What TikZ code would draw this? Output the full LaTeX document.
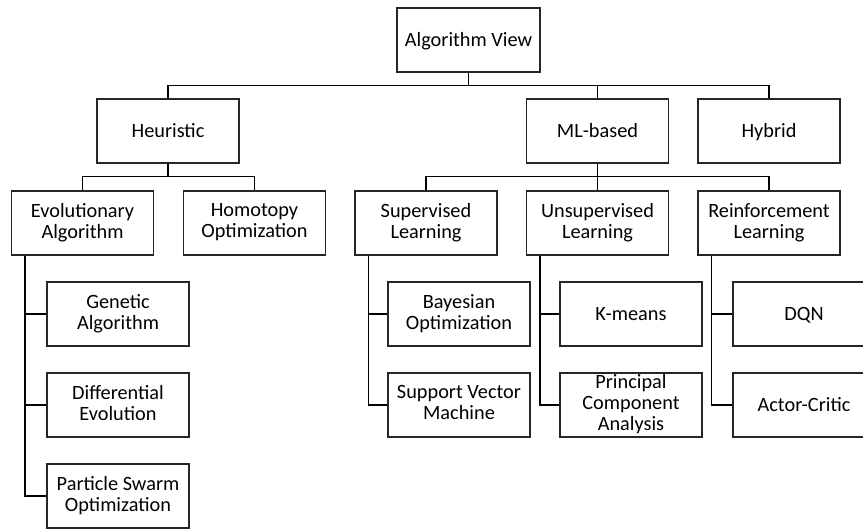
\documentclass[tikz,border=0pt]{standalone}
\usepackage{fontspec}
\setmainfont{Carlito}
% line strut that keeps single- and multi-line labels vertically centred
\newcommand{\labelstrut}{\rule[-4.3pt]{0pt}{21pt}}
\begin{document}
\begin{tikzpicture}[x=1pt,y=-1pt,
  box/.style={draw=black!85, line width=1.5pt, minimum width=142pt, minimum height=64pt,
    inner sep=2pt, align=center, font=\fontsize{20.3}{21}\selectfont,
    execute at begin node=\labelstrut, execute at end node=\labelstrut},
  wire/.style={draw=black, line width=1.5pt}]
\useasboundingbox (0,0) rectangle (863,528);

% level 0
\node[box, minimum width=143pt] (root) at (468.5,40) {Algorithm View};

% level 1
\node[box] (heur) at (168,131) {Heuristic};
\node[box] (ml)   at (597.5,131) {ML-based};
\node[box] (hyb)  at (769,131) {Hybrid};

% level 2
\node[box] (evo) at (82.5,223) {Evolutionary\\Algorithm};
\node[box] (hom) at (254.5,223) {Homotopy\\Optimization};
\node[box] (sup) at (426,223) {Supervised\\Learning};
\node[box] (uns) at (597.5,223) {Unsupervised\\Learning};
\node[box] (rei) at (769,223) {Reinforcement\\Learning};

% level 3
\node[box] (ga)  at (118,314) {Genetic\\Algorithm};
\node[box] (de)  at (118,405) {Differential\\Evolution};
\node[box] (pso) at (118,496) {Particle Swarm\\Optimization};
\node[box] (bay) at (459,314) {Bayesian\\Optimization};
\node[box] (svm) at (459,405) {Support Vector\\Machine};
\node[box] (km)  at (631,314) {K-means};
\node[box] (pca) at (631,405) {Principal\\Component\\Analysis};
\node[box] (dqn) at (804,314) {DQN};
\node[box] (ac)  at (804,405) {Actor-Critic};

% bus from the root to level 1
\draw[wire] (root.south) |- ([yshift=13pt]heur.north) -- (heur.north);
\draw[wire] (root.south) |- ([yshift=13pt]ml.north) -- (ml.north);
\draw[wire] (root.south) |- ([yshift=13pt]hyb.north) -- (hyb.north);

% buses from level 1 to level 2
\draw[wire] (heur.south) |- ([yshift=14pt]evo.north) -- (evo.north);
\draw[wire] (heur.south) |- ([yshift=14pt]hom.north) -- (hom.north);
\draw[wire] (ml.south) |- ([yshift=14pt]sup.north) -- (sup.north);
\draw[wire] (ml.south) |- ([yshift=14pt]uns.north) -- (uns.north);
\draw[wire] (ml.south) |- ([yshift=14pt]rei.north) -- (rei.north);

% side rails to the leaves
\draw[wire] ([xshift=14pt]evo.south west) |- (ga.west);
\draw[wire] ([xshift=14pt]evo.south west) |- (de.west);
\draw[wire] ([xshift=14pt]evo.south west) |- (pso.west);
\draw[wire] ([xshift=14pt]sup.south west) |- (bay.west);
\draw[wire] ([xshift=14pt]sup.south west) |- (svm.west);
\draw[wire] ([xshift=14pt]uns.south west) |- (km.west);
\draw[wire] ([xshift=14pt]uns.south west) |- (pca.west);
\draw[wire] ([xshift=14pt]rei.south west) |- (dqn.west);
\draw[wire] ([xshift=14pt]rei.south west) |- (ac.west);
\end{tikzpicture}
\end{document}
